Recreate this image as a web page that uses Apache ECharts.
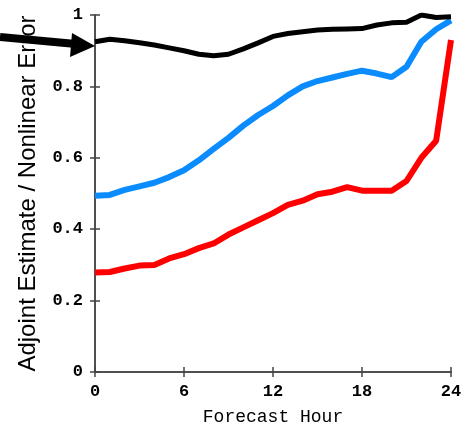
<!DOCTYPE html>
<html>
<head>
<meta charset="utf-8">
<script src="https://cdn.jsdelivr.net/npm/echarts@6/dist/echarts.min.js"></script>
<style>
  html, body { margin: 0; padding: 0; background: #fff; }
  #chart { width: 467px; height: 426px; }
</style>
</head>
<body>
<div id="chart"></div>
<script>
// forecast hours 0..24
const hours = [0,1,2,3,4,5,6,7,8,9,10,11,12,13,14,15,16,17,18,19,20,21,22,23,24];

const blackVals = [0.925,0.932,0.928,0.922,0.916,0.908,0.900,0.890,0.886,0.890,0.905,0.922,0.940,
                   0.948,0.953,0.958,0.960,0.961,0.962,0.972,0.978,0.980,1.000,0.993,0.995];
const blueVals  = [0.494,0.496,0.510,0.520,0.530,0.546,0.565,0.593,0.625,0.656,0.690,0.720,0.745,
                   0.775,0.800,0.815,0.825,0.835,0.844,0.836,0.826,0.855,0.925,0.960,0.985];
const redVals   = [0.279,0.280,0.290,0.298,0.300,0.318,0.330,0.347,0.360,0.385,0.405,0.425,0.445,
                   0.468,0.480,0.498,0.505,0.518,0.508,0.508,0.508,0.535,0.600,0.648,0.930];

const yTickLabels = {0: '0', 0.2: '0.2', 0.4: '0.4', 0.6: '0.6', 0.8: '0.8', 1: '1'};

function pairs(vals) {
    return hours.map((h, i) => [h, vals[i]]);
}

const monoFont = '"Liberation Mono", "DejaVu Sans Mono", monospace';
const frame = '#444';

let chart = echarts.init(document.getElementById('chart'), null, {renderer: 'canvas'});

let option = {
    animation: false,
    backgroundColor: '#fff',
    grid: {left: 95, right: 16, top: 15, bottom: 54, outerBoundsMode: 'none', containLabel: false},
    xAxis: [{
        type: 'value',
        min: 0, max: 24, interval: 6,
        name: 'Forecast Hour',
        nameLocation: 'middle',
        nameGap: 36,
        nameTextStyle: {fontFamily: monoFont, fontSize: 18, color: '#000'},
        axisLine: {show: true, lineStyle: {color: frame, width: 1.5}},
        axisTick: {inside: true, length: 5, lineStyle: {color: frame, width: 1.5}},
        axisLabel: {fontFamily: monoFont, fontSize: 17, fontWeight: 'bold', color: '#000', margin: 11},
        splitLine: {show: false}
    }, {
        type: 'value', position: 'top',
        min: 0, max: 24, interval: 6,
        axisLine: {show: true, lineStyle: {color: frame, width: 1.5}},
        axisTick: {inside: true, length: 5, lineStyle: {color: frame, width: 1.5}},
        axisLabel: {show: false},
        splitLine: {show: false}
    }],
    yAxis: [{
        type: 'value',
        min: 0, max: 1, interval: 0.2,
        name: 'Adjoint Estimate / Nonlinear Error',
        nameLocation: 'middle',
        nameGap: 55,
        nameTextStyle: {fontFamily: '"Liberation Sans", Arial, sans-serif', fontSize: 24, color: '#000'},
        axisLine: {show: true, lineStyle: {color: frame, width: 1.5}},
        axisTick: {inside: true, length: 5, lineStyle: {color: frame, width: 1.5}},
        axisLabel: {
            fontFamily: monoFont, fontSize: 17, fontWeight: 'bold', color: '#000', margin: 12,
            formatter: (v) => yTickLabels[Math.round(v * 10) / 10]
        },
        splitLine: {show: false}
    }, {
        type: 'value', position: 'right',
        min: 0, max: 1, interval: 0.2,
        axisLine: {show: true, lineStyle: {color: frame, width: 1.5}},
        axisTick: {inside: true, length: 5, lineStyle: {color: frame, width: 1.5}},
        axisLabel: {show: false},
        splitLine: {show: false}
    }],
    series: [{
        name: 'red', type: 'line', data: pairs(redVals), showSymbol: false,
        lineStyle: {color: '#ff0000', width: 6}, z: 3
    }, {
        name: 'blue', type: 'line', data: pairs(blueVals), showSymbol: false,
        lineStyle: {color: '#0a8cff', width: 6}, z: 4
    }, {
        name: 'black', type: 'line', data: pairs(blackVals), showSymbol: false,
        lineStyle: {color: '#000', width: 5}, z: 5
    }],
    graphic: [{
        type: 'line', z: 100,
        shape: {x1: 0, y1: 37, x2: 76, y2: 44},
        style: {stroke: '#000', lineWidth: 8}
    }, {
        type: 'polygon', z: 100,
        shape: {points: [[72, 33], [95, 46], [70, 57]]},
        style: {fill: '#000'}
    }]
};

chart.setOption(option);
</script>
</body>
</html>
